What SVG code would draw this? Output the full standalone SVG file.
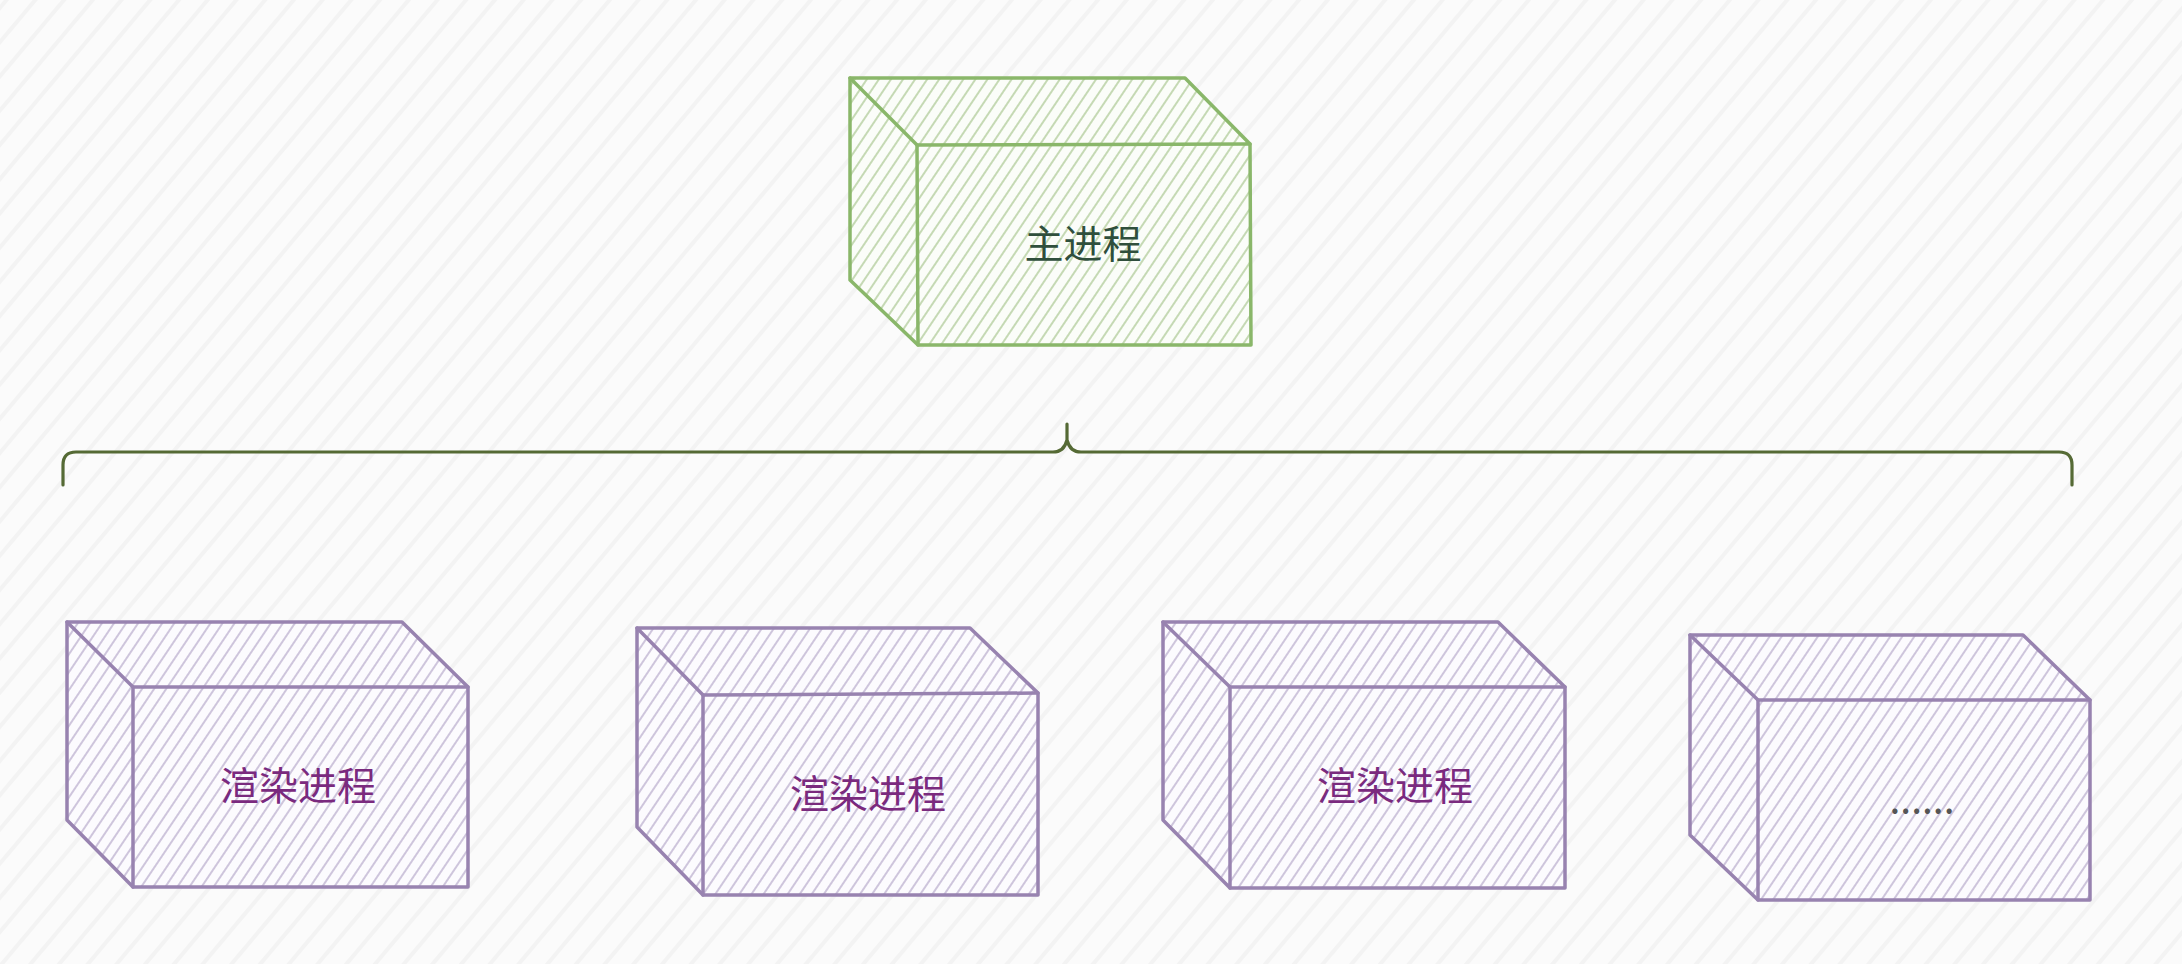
<svg xmlns="http://www.w3.org/2000/svg" width="2182" height="964" viewBox="0 0 2182 964">
  <defs>
    <pattern id="bgHatch" patternUnits="userSpaceOnUse" width="22" height="22" patternTransform="rotate(40)">
      <line x1="5" y1="0" x2="5" y2="22" stroke="#f3f3f3" stroke-width="4"/>
    </pattern>
    <pattern id="hatchG" patternUnits="userSpaceOnUse" width="10" height="10" patternTransform="rotate(34)">
      <line x1="3" y1="0" x2="3" y2="10" stroke="#bcd3a8" stroke-width="1.7"/>
    </pattern>
    <pattern id="hatchP" patternUnits="userSpaceOnUse" width="10" height="10" patternTransform="rotate(34)">
      <line x1="3" y1="0" x2="3" y2="10" stroke="#c6bcd6" stroke-width="1.7"/>
    </pattern>
  </defs>
  <style>
    .g .base { fill: #fbfdf9; stroke: none; }
    .p .base { fill: #fcfbfe; stroke: none; }
    .g .hatch { fill: url(#hatchG); }
    .p .hatch { fill: url(#hatchP); }
    .g .edge { fill: none; stroke: #8ab76a; stroke-width: 3.5; stroke-linejoin: round; stroke-linecap: round; }
    .p .edge { fill: none; stroke: #9883b0; stroke-width: 3.5; stroke-linejoin: round; stroke-linecap: round; }
    .label { font-family: "Noto Sans CJK SC", "Noto Sans", sans-serif; font-size: 39px; text-anchor: middle; }
    .g .label { fill: #2f4f3c; }
    .p .label { fill: #7a2a7e; }
    .p .label.dots { fill: #555555; }
    .brace { fill: none; stroke: #556a35; stroke-width: 3.2; stroke-linejoin: round; stroke-linecap: round; }
  </style>

  <rect x="0" y="0" width="2182" height="964" fill="#fbfbfb"/>
  <rect x="0" y="0" width="2182" height="964" fill="url(#bgHatch)"/>

  <g id="main-process" class="g">
    <polygon class="base" points="850,78 1185,78 1250,144 1251,345 918,345 850,280"/>
    <polygon class="hatch" points="850,78 1185,78 1250,144 1251,345 918,345 850,280"/>
    <polygon class="edge" points="850,78 1185,78 1250,144 1251,345 918,345 850,280"/>
    <polyline class="edge" points="850,78 917,145 1250,144"/>
    <line class="edge" x1="917" y1="145" x2="918" y2="345"/>
    <text class="label" x="1083" y="258">主进程</text>
  </g>

  <g id="connectors">
    <path class="brace" d="M63,485 L63,465 Q63,452 76,452 L1053,452 Q1064,452 1067,440 L1067,424 M1067,440 Q1070,452 1081,452 L2059,452 Q2072,452 2072,465 L2072,485"/>
  </g>

  <g id="render-1" class="p">
    <polygon class="base" points="67,622 402,622 468,687 468,887 133,887 67,820"/>
    <polygon class="hatch" points="67,622 402,622 468,687 468,887 133,887 67,820"/>
    <polygon class="edge" points="67,622 402,622 468,687 468,887 133,887 67,820"/>
    <polyline class="edge" points="67,622 133,687 468,687"/>
    <line class="edge" x1="133" y1="687" x2="133" y2="887"/>
    <text class="label" x="298" y="800">渲染进程</text>
  </g>

  <g id="render-2" class="p">
    <polygon class="base" points="637,628 970,628 1038,693 1038,895 703,895 637,827"/>
    <polygon class="hatch" points="637,628 970,628 1038,693 1038,895 703,895 637,827"/>
    <polygon class="edge" points="637,628 970,628 1038,693 1038,895 703,895 637,827"/>
    <polyline class="edge" points="637,628 703,695 1038,693"/>
    <line class="edge" x1="703" y1="695" x2="703" y2="895"/>
    <text class="label" x="868" y="808">渲染进程</text>
  </g>

  <g id="render-3" class="p">
    <polygon class="base" points="1163,622 1498,622 1565,687 1565,888 1230,888 1163,820"/>
    <polygon class="hatch" points="1163,622 1498,622 1565,687 1565,888 1230,888 1163,820"/>
    <polygon class="edge" points="1163,622 1498,622 1565,687 1565,888 1230,888 1163,820"/>
    <polyline class="edge" points="1163,622 1230,687 1565,687"/>
    <line class="edge" x1="1230" y1="687" x2="1230" y2="888"/>
    <text class="label" x="1395" y="800">渲染进程</text>
  </g>

  <g id="render-more" class="p">
    <polygon class="base" points="1690,635 2023,635 2090,700 2090,900 1758,900 1690,835"/>
    <polygon class="hatch" points="1690,635 2023,635 2090,700 2090,900 1758,900 1690,835"/>
    <polygon class="edge" points="1690,635 2023,635 2090,700 2090,900 1758,900 1690,835"/>
    <polyline class="edge" points="1690,635 1758,700 2090,700"/>
    <line class="edge" x1="1758" y1="700" x2="1758" y2="900"/>
    <text class="label dots" x="1922" y="814">......</text>
  </g>
</svg>
